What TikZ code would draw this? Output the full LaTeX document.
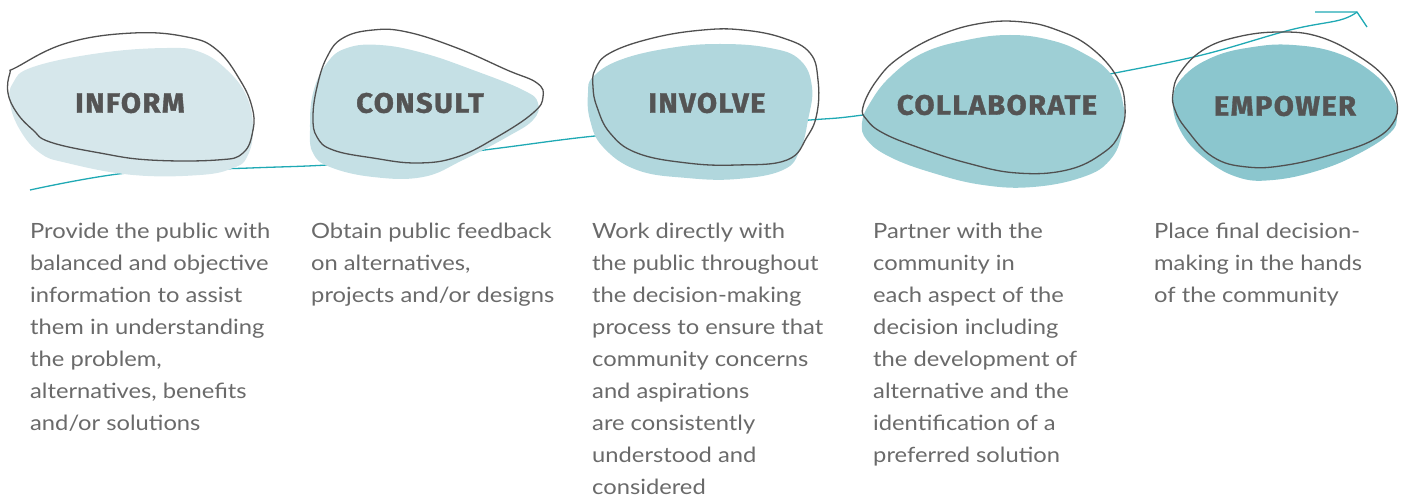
\documentclass[tikz,border=0pt]{standalone}
\usepackage{fontspec}
\newfontfamily\bodyfont{Lato}[FakeStretch=1.13]
\newfontfamily\headfont{Fira Sans}[FakeStretch=1.04,LetterSpace=5,BoldFeatures={FakeBold=1.3}]
\definecolor{flowc}{HTML}{1FA9B4}
\definecolor{lineg}{HTML}{505050}
\definecolor{headg}{HTML}{545454}
\definecolor{bodyg}{HTML}{6A6A6A}
\definecolor{fA}{HTML}{D6E7EB}
\definecolor{fB}{HTML}{C5E0E5}
\definecolor{fC}{HTML}{B1D7DD}
\definecolor{fD}{HTML}{9ECFD5}
\definecolor{fE}{HTML}{8BC6CE}
\begin{document}
\begin{tikzpicture}[x=1pt,y=-1pt,
  flow/.style={draw=flowc,line width=1.3pt},
  blobfill/.style={fill=#1,draw=none},
  blobline/.style={draw=lineg,line width=1.3pt},
  head/.style={text=headg,font=\headfont\bfseries\fontsize{28}{28}\selectfont,inner sep=0pt},
  body/.style={text=bodyg,font=\bodyfont\fontsize{21}{32}\selectfont,align=left,anchor=north west,inner sep=0pt}]
\useasboundingbox (0,0) rectangle (1405,497);
% flow line
\coordinate (s) at (30,190);
\coordinate (e) at (1357,12);
\coordinate (e1) at (1315,12);
\coordinate (e2) at (1367,27);
\draw[flow] plot[smooth,tension=0.6] coordinates {(s) (127,173) (250,168) (327,165) (420,158) (500,148) (595,136) (700,128) (810,120) (863,115) (1000,95) (1110,74) (1202,55) (1290,30) (1340,20) (e)};
\draw[flow] (e1) -- (e) -- (e2);
% fills
\fill[blobfill=fA] plot[smooth cycle,tension=0.7] coordinates {(13,83) (33,67) (100,53) (167,48) (200,52) (227,70) (247,97) (253,130) (247,157) (233,168) (200,175) (133,175) (67,163) (40,153) (20,130) (10,103)};
\fill[blobfill=fB] plot[smooth cycle,tension=0.7] coordinates {(310,130) (313,93) (327,63) (347,48) (380,45) (423,53) (473,70) (523,90) (538,103) (533,120) (507,137) (463,160) (423,177) (373,177) (330,167) (313,153)};
\fill[blobfill=fC] plot[smooth cycle,tension=0.7] coordinates {(588,93) (593,77) (620,60) (670,48) (720,44) (770,48) (800,60) (812,87) (808,120) (800,150) (783,170) (737,179) (687,178) (637,170) (603,147) (590,120)};
\fill[blobfill=fD] plot[smooth cycle,tension=0.7] coordinates {(862,123) (870,103) (890,77) (923,53) (967,40) (1010,35) (1050,40) (1083,53) (1110,73) (1123,103) (1122,133) (1110,160) (1083,177) (1033,187) (983,185) (933,173) (890,157) (867,140)};
\fill[blobfill=fE] plot[smooth cycle,tension=0.7] coordinates {(1173,100) (1183,77) (1213,57) (1253,47) (1293,45) (1337,53) (1373,73) (1393,97) (1397,117) (1390,133) (1360,153) (1320,170) (1273,180) (1237,177) (1203,157) (1180,130)};
% outlines
\draw[blobline] plot[smooth cycle,tension=0.7] coordinates {(10,73) (17,67) (67,43) (133,33) (187,37) (217,50) (240,80) (252,107) (253,130) (243,153) (217,160) (150,160) (100,153) (50,142) (33,130) (17,113) (8,93)};
\draw[blobline] plot[smooth cycle,tension=0.7] coordinates {(313,117) (317,87) (327,57) (343,38) (373,30) (407,32) (457,48) (507,70) (537,83) (543,97) (533,113) (497,137) (457,157) (417,163) (373,158) (333,150) (317,137)};
\draw[blobline] plot[smooth cycle,tension=0.7] coordinates {(595,70) (610,53) (653,38) (703,30) (743,30) (783,38) (810,53) (818,80) (817,113) (807,137) (787,160) (737,165) (687,163) (637,153) (610,133) (597,107) (593,87)};
\draw[blobline] plot[smooth cycle,tension=0.7] coordinates {(863,107) (877,80) (900,57) (940,35) (983,23) (1023,22) (1057,30) (1090,47) (1117,77) (1125,107) (1120,133) (1103,153) (1067,170) (1017,173) (967,163) (917,147) (883,133) (867,120)};
\draw[blobline] plot[smooth cycle,tension=0.7] coordinates {(1173,93) (1180,73) (1203,50) (1237,37) (1280,32) (1320,37) (1360,57) (1387,80) (1397,103) (1393,123) (1373,140) (1337,153) (1287,165) (1247,167) (1213,157) (1187,130) (1175,110)};
% headings
\node[head] (inform) at (130,103) {INFORM};
\node[head] (consult) at (420,103) {CONSULT};
\node[head] (involve) at (707,103) {INVOLVE};
\node[head] (collab) at (997,105) {COLLABORATE};
\node[head] (empower) at (1285,106) {EMPOWER};
% descriptions
\node[body] (tA) at (30,223) {Provide the public with\\balanced and objective\\information to assist\\them in understanding\\the problem,\\alternatives, benefits\\and/or solutions};
\node[body] (tB) at (311,223) {Obtain public feedback\\on alternatives,\\projects and/or designs};
\node[body] (tC) at (592,223) {Work directly with\\the public throughout\\the decision-making\\process to ensure that\\community concerns\\and aspirations\\are consistently\\understood and\\considered};
\node[body] (tD) at (873,223) {Partner with the\\community in\\each aspect of the\\decision including\\the development of\\alternative and the\\identification of a\\preferred solution};
\node[body] (tE) at (1154,223) {Place final decision-\\making in the hands\\of the community};
\end{tikzpicture}
\end{document}
